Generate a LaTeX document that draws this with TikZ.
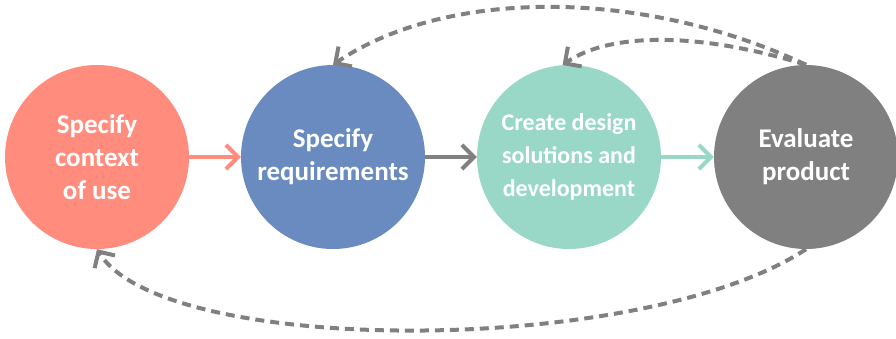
\documentclass[tikz,border=0pt]{standalone}
\usepackage{fontspec}
\setmainfont{Carlito}
\usepackage{xcolor}
\definecolor{PhaseRed}{RGB}{255,140,125}
\definecolor{PhaseBlue}{RGB}{106,139,191}
\definecolor{PhaseTeal}{RGB}{153,216,199}
\definecolor{PhaseGray}{RGB}{128,128,128}
\usepackage{tikz}
\usetikzlibrary{arrows.meta}

\tikzset{
	phase/.style={circle, minimum size=184pt, inner sep=0pt, text=white, align=center,
		font=\bfseries\fontsize{27}{33}\selectfont},
	flow/.style={line width=4pt, -{Straight Barb[length=12pt,width=24pt]}},
	loopback/.style={flow, PhaseGray, dash pattern=on 9pt off 6pt}
}

\begin{document}
\begin{tikzpicture}[x=1pt, y=-1pt]
			\useasboundingbox (0,0) rectangle (896,338);
			% Fases
			\node[phase, fill=PhaseRed] (ctx) at (97,157) {Specify\\context\\of use};
			\node[phase, fill=PhaseBlue] (req) at (333,157) {Specify\\requirements};
			\node[phase, fill=PhaseTeal, font=\bfseries\fontsize{24}{33}\selectfont] (dsgn) at (569,157) {Create design\\solutions and\\development};
			\node[phase, fill=PhaseGray] (eval) at (806,157) {Evaluate\\product};
			% Flechas entre fases
			\draw[flow, PhaseRed] (ctx) -- (req);
			\draw[flow, PhaseGray] (req) -- (dsgn);
			\draw[flow, PhaseTeal] (dsgn) -- (eval);
			% Retornos
			\draw[loopback] (eval.north) .. controls (643,-12) and (446,-12) .. (req.north);
			\draw[loopback] (eval.north) .. controls (700,32) and (610,32) .. (dsgn.94);
			\draw[loopback] (eval.south) .. controls (642,357) and (164,357) .. (ctx.south);
\end{tikzpicture}
\end{document}
